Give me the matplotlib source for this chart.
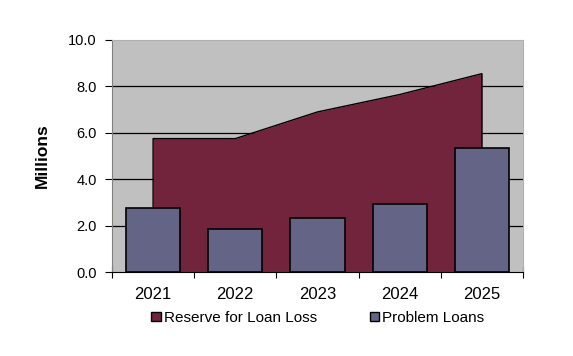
import matplotlib
matplotlib.use("Agg")
import matplotlib.pyplot as plt
from matplotlib.patches import Patch

years = ["2021", "2022", "2023", "2024", "2025"]
reserve = [5.75, 5.75, 6.9, 7.65, 8.55]
problem = [2.75, 1.85, 2.33, 2.93, 5.35]
yticks = [0.0, 2.0, 4.0, 6.0, 8.0, 10.0]

plt.rcParams['font.family'] = ['Liberation Sans', 'DejaVu Sans']

fig = plt.figure(figsize=(5.73, 3.56), dpi=100)
ax = fig.add_axes([112/573, 1-272/356, 411/573, 232/356])
ax.set_facecolor('#C0C0C0')

x = list(range(len(years)))
ax.fill_between(x, reserve, 0, color='#72243C', linewidth=0, zorder=2)
ax.plot([0] + x + [4], [0] + reserve + [0], color='black', linewidth=1.0, zorder=2.5)
ax.bar(x, problem, width=0.66, color='#646487', edgecolor='black', linewidth=1.2, zorder=3)

ax.set_xlim(-0.5, 4.5)
ax.set_ylim(0, 10)
ax.set_yticks(yticks)
ax.set_yticklabels([f"{v:.1f}" for v in yticks], fontsize=10.5)
for v in yticks[1:-1]:
    ax.axhline(v, color='black', linewidth=0.9, zorder=1)

ax.set_xticks([i - 0.5 for i in range(len(years) + 1)])
ax.set_xticklabels([])
ax.set_xticks(x, minor=True)
ax.set_xticklabels(years, minor=True, fontsize=12)
ax.tick_params(axis='x', which='minor', length=0, pad=11)
ax.tick_params(axis='x', which='major', direction='inout', length=8, width=0.8)
ax.tick_params(axis='y', direction='out', length=5, width=0.8, pad=6)

ax.spines['left'].set_color('#808080')
ax.spines['top'].set_color('#B0B0B0')
ax.spines['right'].set_color('#B0B0B0')
ax.spines['bottom'].set_color('black')

ax.set_ylabel("Millions", fontsize=12.5, fontweight='bold', labelpad=13)

handles = [Patch(facecolor='#72243C', edgecolor='black', label='Reserve for Loan Loss'),
           Patch(facecolor='#646487', edgecolor='black', label='Problem Loans')]
fig.legend(handles=handles, loc='center', bbox_to_anchor=(318/573, 1-318/356), ncol=2,
           frameon=False, fontsize=11, handlelength=0.6, handleheight=0.6,
           handletextpad=0.2, columnspacing=3.5)

fig.savefig("out.png", dpi=100)
